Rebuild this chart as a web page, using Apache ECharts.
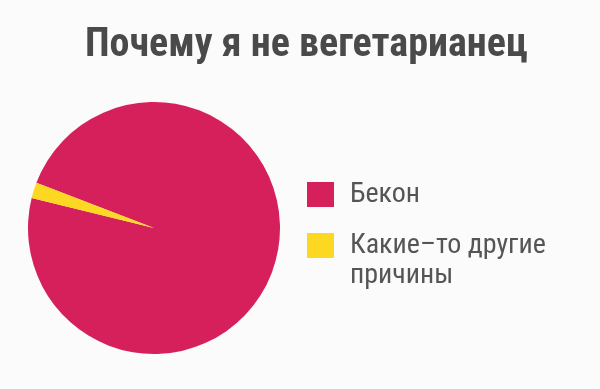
<!DOCTYPE html>
<html>
<head>
<meta charset="utf-8">
<script src="https://cdn.jsdelivr.net/npm/echarts@6/dist/echarts.min.js"></script>
<style>html,body{margin:0;padding:0;background:#fbfbfb;}#c{width:600px;height:389px;}</style>
</head>
<body>
<div id="c"></div>
<script>
var categories = ['Бекон', 'Какие–то другие причины'];
var legendLabels = ['Бекон', '\nКакие–то другие\nпричины'];
var values = [98, 2];
var colors = ['#d6205c', '#fcd822'];
var titleText = 'Почему я не вегетарианец';

var FONT = '"Roboto Condensed", "DejaVu Sans Condensed", sans-serif';
var chart = echarts.init(document.getElementById('c'));
chart.setOption({
  backgroundColor: '#fbfbfb',
  animation: false,
  title: {
    text: titleText,
    left: 85,
    top: 26,
    padding: 0,
    textStyle: {fontFamily: FONT, fontWeight: 'bold', fontSize: 40, color: '#4a4a4a'}
  },
  legend: {
    orient: 'vertical',
    left: 307,
    top: 179.5,
    padding: 0,
    itemWidth: 27,
    itemHeight: 25,
    itemGap: -9,
    icon: 'rect',
    selectedMode: false,
    data: [categories[0], categories[1]],
    formatter: function (n) { return legendLabels[categories.indexOf(n)]; },
    textStyle: {fontFamily: FONT, fontSize: 28, color: '#555555', lineHeight: 30, padding: [0, 0, 0, 11]}
  },
  series: [{
    type: 'pie',
    center: [154, 228],
    radius: 126,
    startAngle: 159,
    label: {show: false},
    labelLine: {show: false},
    itemStyle: {borderWidth: 0},
    data: categories.map(function (c, i) {
      return {name: c, value: values[i], itemStyle: {color: colors[i]}};
    })
  }]
});
</script>
</body>
</html>
